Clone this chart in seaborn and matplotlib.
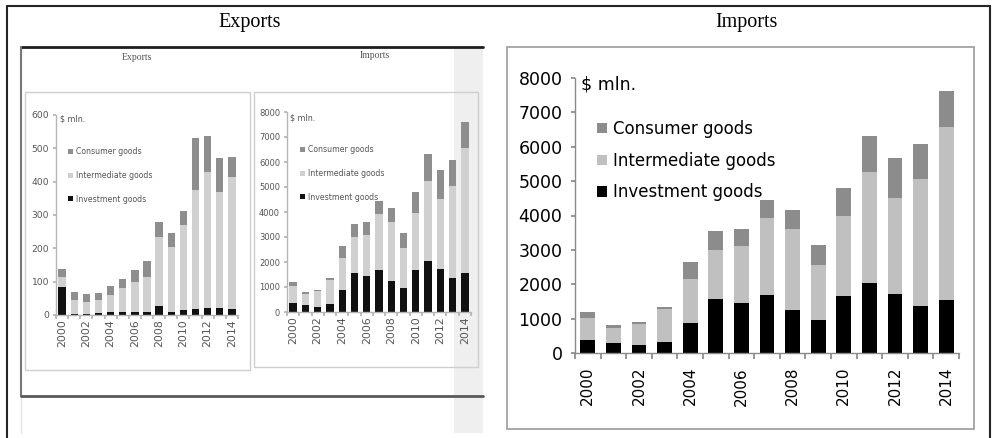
import numpy as np
import pandas as pd
import matplotlib
matplotlib.use("Agg")
import matplotlib.pyplot as plt
import seaborn as sns
from matplotlib.patches import Rectangle, Patch
from matplotlib.lines import Line2D

# ---------------- data ----------------
years = [str(y) for y in range(2000, 2015)]
even_labels = [str(y) for y in range(2000, 2015, 2)]

exp_investment = [85, 3, 3, 5, 8, 10, 10, 10, 28, 10, 15, 18, 20, 22, 18]
exp_intermediate = [30, 42, 35, 40, 52, 70, 90, 105, 207, 195, 255, 357, 410, 348, 397]
exp_consumer = [22, 25, 25, 22, 27, 28, 35, 47, 45, 40, 43, 155, 108, 100, 60]

imp_investment = [380, 290, 220, 330, 870, 1580, 1450, 1700, 1260, 970, 1670, 2040, 1730, 1380, 1550]
imp_intermediate = [650, 440, 620, 950, 1280, 1410, 1650, 2230, 2350, 1600, 2310, 3220, 2780, 3680, 5020]
imp_consumer = [170, 80, 60, 70, 490, 550, 500, 510, 540, 580, 820, 1060, 1160, 1030, 1040]

series_names = ["Consumer goods", "Intermediate goods", "Investment goods"]
unit_label = "$ mln."
header_titles = ["Exports", "Imports"]

# ---------------- setup ----------------
sns.set_theme(style="white")
plt.rcParams["font.family"] = ["DejaVu Sans"]

W, H = 992, 438
fig = plt.figure(figsize=(W / 100, H / 100), dpi=100)
fig.patch.set_facecolor("white")


def fx(x):
    return x / W


def fy(y):
    return 1 - y / H


def axes_px(x0, y_top, x1, y_bot):
    ax = fig.add_axes([fx(x0), fy(y_bot), (x1 - x0) / W, (y_bot - y_top) / H])
    ax.set_facecolor("none")
    return ax


def hline(x0, x1, y, color, lw, z=5):
    fig.add_artist(Line2D([fx(x0), fx(x1)], [fy(y), fy(y)], color=color, lw=lw,
                          transform=fig.transFigure, zorder=z))


def vline(x, y0, y1, color, lw, z=5):
    fig.add_artist(Line2D([fx(x), fx(x)], [fy(y0), fy(y1)], color=color, lw=lw,
                          transform=fig.transFigure, zorder=z))


def rect_px(x0, y0, x1, y1, fc, ec, lw, z=-5):
    fig.add_artist(Rectangle((fx(x0), fy(y1)), (x1 - x0) / W, (y1 - y0) / H,
                             facecolor=fc, edgecolor=ec, lw=lw,
                             transform=fig.transFigure, zorder=z))


def stacked(ax, inv, inter, cons, ymax, ystep, colors, bar_w, spine_c,
            fs_y, fs_x, txt_c, ypad, xpad, tick_len):
    df = pd.DataFrame({"year": years, "inv": inv, "inter": inter, "cons": cons})
    df["l2"] = df["inv"] + df["inter"]
    df["l3"] = df["l2"] + df["cons"]
    for col, c in zip(["l3", "l2", "inv"], colors):
        sns.barplot(data=df, x="year", y=col, color=c, saturation=1, width=bar_w,
                    errorbar=None, ax=ax, linewidth=0, order=years)
    ax.set_xlim(-0.5, 14.5)
    ax.set_ylim(0, ymax)
    ax.set_xlabel("")
    ax.set_ylabel("")
    for s in ["top", "right"]:
        ax.spines[s].set_visible(False)
    for s in ["left", "bottom"]:
        ax.spines[s].set_color(spine_c)
        ax.spines[s].set_linewidth(1.0)
    ax.set_yticks(np.arange(0, ymax + 1, ystep))
    ax.set_yticklabels([str(v) for v in np.arange(0, ymax + 1, ystep)])
    ax.tick_params(axis="y", which="major", direction="out", length=tick_len,
                   color=spine_c, labelsize=fs_y, labelcolor=txt_c, pad=ypad, left=True)
    ax.set_xticks(np.arange(-0.5, 15, 1))
    ax.set_xticklabels([""] * 16)
    ax.set_xticks(np.arange(0, 15, 2), minor=True)
    ax.set_xticklabels(even_labels, minor=True, rotation=90)
    ax.tick_params(axis="x", which="major", direction="out", length=tick_len + 1,
                   color=spine_c, bottom=True)
    ax.tick_params(axis="x", which="minor", length=0, labelsize=fs_x,
                   labelcolor=txt_c, pad=xpad, bottom=True)
    ax.grid(False)


def legend_at(ax, colors, x_sq, y_top, fs, lsp, hl, htp, txt_c):
    handles = [Patch(facecolor=c, edgecolor="none") for c in colors]
    leg = ax.legend(handles, series_names, loc="upper left",
                    bbox_to_anchor=(fx(x_sq), fy(y_top)), bbox_transform=fig.transFigure,
                    frameon=False, fontsize=fs, borderpad=0, borderaxespad=0,
                    labelspacing=lsp, handlelength=hl, handleheight=hl,
                    handletextpad=htp)
    for t in leg.get_texts():
        t.set_color(txt_c)
    return leg


# ---------------- table frame ----------------
vline(7, 6, 438, "#262626", 1.5, z=10)
vline(990, 6, 438, "#262626", 1.5, z=10)
hline(7, 990, 6, "#262626", 1.5, z=10)

fig.text(fx(250), fy(23), header_titles[0], ha="center", va="center",
         family="Liberation Serif", fontsize=14.5, color="black")
fig.text(fx(747), fy(23), header_titles[1], ha="center", va="center",
         family="Liberation Serif", fontsize=14.5, color="black")

# ---------------- left: embedded (blurry) picture ----------------
rect_px(454, 47, 483, 433, "#efefef", "none", 0, z=-6)
hline(21, 483, 47, "#1e1e1e", 2.0)
vline(21, 47, 396, "#777777", 1.5)
vline(21, 396, 433, "#e4e4e4", 1.0)
hline(21, 483, 396, "#5a5a5a", 2.0)
rect_px(25, 92, 250, 370, "none", "#cfcfcf", 1.0, z=-4)
rect_px(254, 92, 478, 367, "none", "#cfcfcf", 1.0, z=-4)

fig.text(fx(137), fy(57), header_titles[0], ha="center", va="center",
         family="Liberation Serif", fontsize=7, color="#555555")
fig.text(fx(375), fy(55), header_titles[1], ha="center", va="center",
         family="Liberation Serif", fontsize=7, color="#555555")

blur_cols = ["#8e8e8e", "#d0d0d0", "#111111"]
blur_txt = "#555555"

ax_e = axes_px(56, 115, 238, 315)
stacked(ax_e, exp_investment, exp_intermediate, exp_consumer, 600, 100, blur_cols,
        0.6, "#b5b5b5", 6.6, 7.8, blur_txt, 3, 3, 2)
fig.text(fx(60), fy(119), unit_label, ha="left", va="center", fontsize=5.8, color=blur_txt)
legend_at(ax_e, blur_cols, 68, 147, 5.6, 1.9, 0.6, 0.4, blur_txt)

ax_i = axes_px(287, 112, 471, 312)
stacked(ax_i, imp_investment, imp_intermediate, imp_consumer, 8000, 1000, blur_cols,
        0.6, "#b5b5b5", 6.0, 7.8, blur_txt, 3, 3, 2)
fig.text(fx(290), fy(118), unit_label, ha="left", va="center", fontsize=5.8, color=blur_txt)
legend_at(ax_i, blur_cols, 300, 145, 5.6, 1.9, 0.6, 0.4, blur_txt)

# ---------------- right: imports chart ----------------
rect_px(507, 47, 974, 429, "white", "#a3a3a3", 1.3, z=-4)
main_cols = ["#8c8c8c", "#c0c0c0", "#000000"]
ax_m = axes_px(575, 78, 959, 353)
stacked(ax_m, imp_investment, imp_intermediate, imp_consumer, 8000, 1000, main_cols,
        0.58, "#8a8a8a", 12.5, 11, "black", 6, 10, 3)
fig.text(fx(581), fy(84), unit_label, ha="left", va="center", fontsize=12.5, color="black")
legend_at(ax_m, main_cols, 597, 120, 12, 0.82, 0.6, 0.35, "black")

fig.savefig("out.png", dpi=100, facecolor="white")
